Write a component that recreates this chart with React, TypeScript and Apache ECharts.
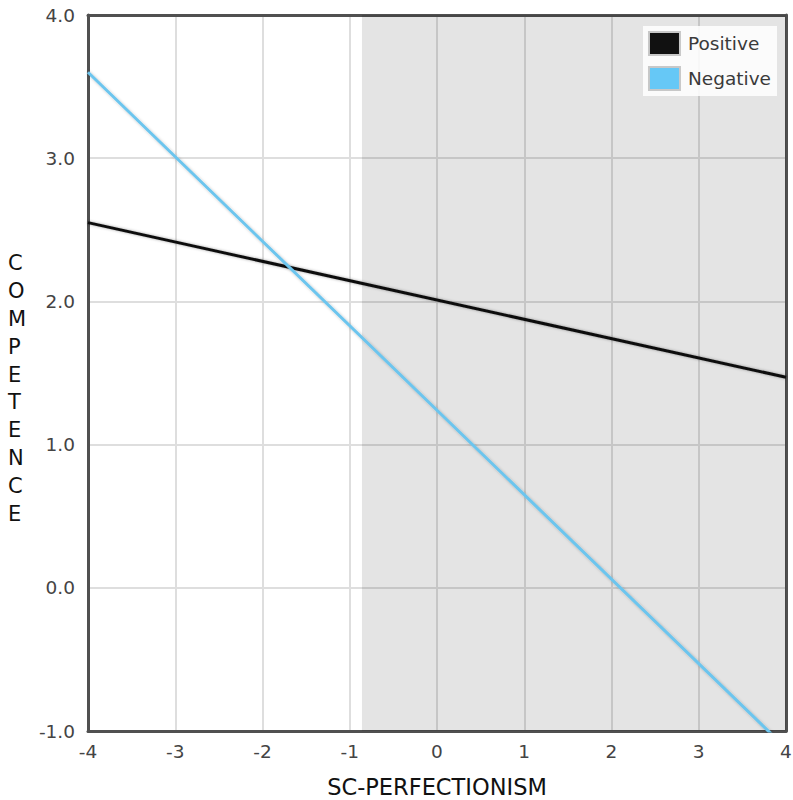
import React, { useEffect, useRef } from "react";
import * as echarts from "echarts";

const seriesNames = ["Positive", "Negative"];
const xEnds = [-4, 4];
const positiveValues = [2.55, 1.47];
const negativeValues = [3.6, -1.12];
const shadeStart = -0.86;
const shadeEnd = 4;
const yNameLetters = ["C", "O", "M", "P", "E", "T", "E", "N", "C", "E"];
const xAxisName = "SC-PERFECTIONISM";

export default function App() {
  const ref = useRef<HTMLDivElement>(null);
  useEffect(() => {
    const chart = echarts.init(ref.current!, null, { renderer: "svg" });
    const font = "DejaVu Sans, Verdana, sans-serif";
    const frameLine = { show: true, onZero: false, lineStyle: { color: "#505050", width: 3 } };
    chart.setOption({
      animation: false,
      backgroundColor: "#ffffff",
      grid: {
        left: 88,
        right: 7,
        top: 15,
        bottom: 69,
        outerBoundsMode: "none",
        containLabel: false,
      },
      legend: {
        data: seriesNames,
        orient: "vertical",
        right: 16,
        top: 26,
        icon: "rect",
        itemWidth: 31,
        itemHeight: 23,
        itemGap: 10,
        padding: [5, 6, 5, 5],
        backgroundColor: "rgba(255,255,255,0.85)",
        itemStyle: { borderColor: "#c8c8c8", borderWidth: 2 },
        textStyle: { fontFamily: font, fontSize: 18.5, color: "#3a3a3a", padding: [0, 0, 0, 3] },
      },
      xAxis: [
        {
          type: "value",
          min: -4,
          max: 4,
          interval: 1,
          name: xAxisName,
          nameLocation: "middle",
          nameGap: 44,
          nameTextStyle: { fontFamily: font, fontSize: 22.5, color: "#111" },
          axisLine: frameLine,
          axisTick: { show: false },
          axisLabel: { fontFamily: font, fontSize: 18.5, color: "#444", margin: 11 },
          splitLine: { show: true, lineStyle: { color: "#dedede", width: 2 } },
        },
        {
          type: "value",
          position: "top",
          min: -4,
          max: 4,
          interval: 1,
          axisLine: frameLine,
          axisTick: { show: false },
          axisLabel: { show: false },
          splitLine: { show: false },
        },
      ],
      yAxis: [
        {
          type: "value",
          min: -1,
          max: 4,
          interval: 1,
          axisLine: frameLine,
          axisTick: { show: false },
          axisLabel: {
            fontFamily: font,
            fontSize: 18.5,
            color: "#444",
            margin: 13,
            formatter: (v: number) => v.toFixed(1),
          },
          splitLine: { show: true, lineStyle: { color: "#dedede", width: 2 } },
        },
        {
          type: "value",
          position: "right",
          min: -1,
          max: 4,
          interval: 1,
          axisLine: frameLine,
          axisTick: { show: false },
          axisLabel: { show: false },
          splitLine: { show: false },
        },
      ],
      graphic: [
        {
          type: "text",
          left: 8,
          top: 249,
          style: {
            text: yNameLetters.join("\n"),
            font: `21px ${font}`,
            fill: "#111",
            lineHeight: 27.9,
            align: "center",
            width: 20,
          },
        },
      ],
      series: [
        {
          type: "line",
          data: [],
          silent: true,
          markArea: {
            silent: true,
            itemStyle: { color: "rgba(0,0,0,0.105)" },
            data: [[{ xAxis: shadeStart }, { xAxis: shadeEnd }]],
          },
        },
        {
          name: seriesNames[0],
          type: "line",
          data: xEnds.map((x, i) => [x, positiveValues[i]]),
          symbol: "none",
          color: "#111111",
          lineStyle: { width: 3, color: "#111111", shadowBlur: 3, shadowColor: "rgba(0,0,0,0.35)" },
        },
        {
          name: seriesNames[1],
          type: "line",
          data: xEnds.map((x, i) => [x, negativeValues[i]]),
          symbol: "none",
          color: "#66c8f6",
          lineStyle: { width: 3, color: "#6cc5ee", shadowBlur: 3, shadowColor: "rgba(0,0,0,0.25)" },
        },
      ],
    });
    return () => chart.dispose();
  }, []);
  return (
    <div
      ref={ref}
      style={{ position: "fixed", left: 0, top: 0, width: 793, height: 800 }}
    />
  );
}
